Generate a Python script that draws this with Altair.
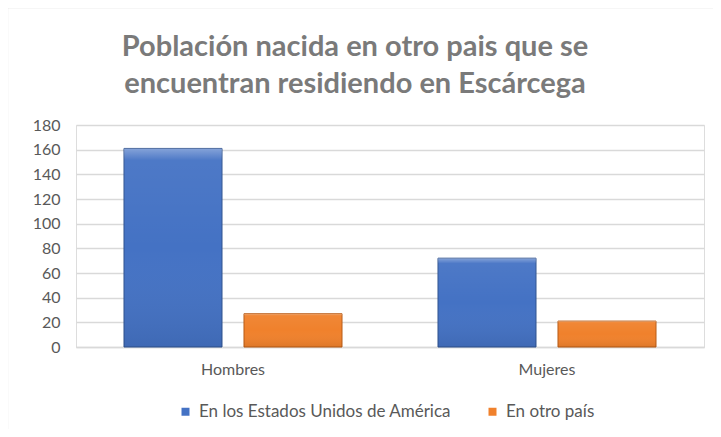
import altair as alt
import pandas as pd

categories = ["Hombres", "Mujeres"]
series = ["En los Estados Unidos de América", "En otro país"]
usa_values = [161, 72]
other_values = [27, 21]

rows = []
for i, c in enumerate(categories):
    rows.append({"sexo": c, "serie": series[0], "valor": usa_values[i]})
    rows.append({"sexo": c, "serie": series[1], "valor": other_values[i]})
df = pd.DataFrame(rows)

FONT = "Lato"

x = alt.X("sexo:N", sort=categories,
          scale=alt.Scale(paddingInner=0, paddingOuter=0),
          axis=alt.Axis(title=None, labelAngle=0, labelFontSize=16, labelColor="#595959",
                        labelPadding=14, ticks=False, domainColor="#d9d9d9", domainWidth=1.3,
                        labelFont=FONT))
xoff = alt.XOffset("serie:N", sort=series,
                   scale=alt.Scale(paddingInner=0.1833, paddingOuter=0.4))
y = alt.Y("valor:Q",
          scale=alt.Scale(domain=[0, 180], nice=False),
          axis=alt.Axis(title=None, values=list(range(0, 181, 20)), labelFontSize=16,
                        labelColor="#595959", labelPadding=16, ticks=False, domain=False,
                        gridColor="#d9d9d9", gridWidth=1.3, labelFont=FONT))

bars = alt.Chart(df).mark_bar(strokeWidth=1).encode(
    x=x, xOffset=xoff, y=y,
    color=alt.Color("serie:N", sort=series,
                    scale=alt.Scale(domain=series, range=["#4472C4", "#F0812C"]),
                    legend=alt.Legend(title=None, orient="none", direction="horizontal",
                                      legendX=101, legendY=278, symbolType="square",
                                      symbolSize=64, labelFontSize=17, labelColor="#595959",
                                      labelFont=FONT, columnPadding=32, symbolStrokeWidth=0,
                                      labelOffset=5, padding=0, labelLimit=0)),
    stroke=alt.Stroke("serie:N", sort=series,
                      scale=alt.Scale(domain=series, range=["#2F528F", "#B85A14"]),
                      legend=None),
)

sheen = alt.Chart(df).mark_bar(
    fill=alt.Gradient(gradient="linear", x1=0, x2=0, y1=0, y2=1,
                      stops=[alt.GradientStop(color="rgba(255,255,255,0.35)", offset=0),
                             alt.GradientStop(color="rgba(255,255,255,0.05)", offset=0.06),
                             alt.GradientStop(color="rgba(255,255,255,0)", offset=0.5),
                             alt.GradientStop(color="rgba(0,0,0,0.08)", offset=1)])
).encode(x=x, xOffset=xoff, y=y)

border = alt.Chart(pd.DataFrame({"k": [0]})).mark_rect(
    fill="transparent", stroke="#d9d9d9", strokeWidth=1.3
).encode(x=alt.value(-68.5), x2=alt.value(720), y=alt.value(-117.5), y2=alt.value(340))

chart = alt.layer(bars, sheen, border).properties(
    width=628, height=222,
    title=alt.TitleParams(
        text=["Población nacida en otro pais que se", "encuentran residiendo en Escárcega"],
        fontSize=29, font=FONT, fontWeight="bold", color="#7a7a7a",
        anchor="middle", frame="group", offset=0, dy=92, lineHeight=37, dx=-35),
    autosize=alt.AutoSizeParams(type="none"),
    padding={"left": 68, "top": 117, "right": 9, "bottom": 82},
).configure_view(stroke=None).configure(background="white")

chart.save("out.html", embed_options={"renderer": "svg", "actions": False})
